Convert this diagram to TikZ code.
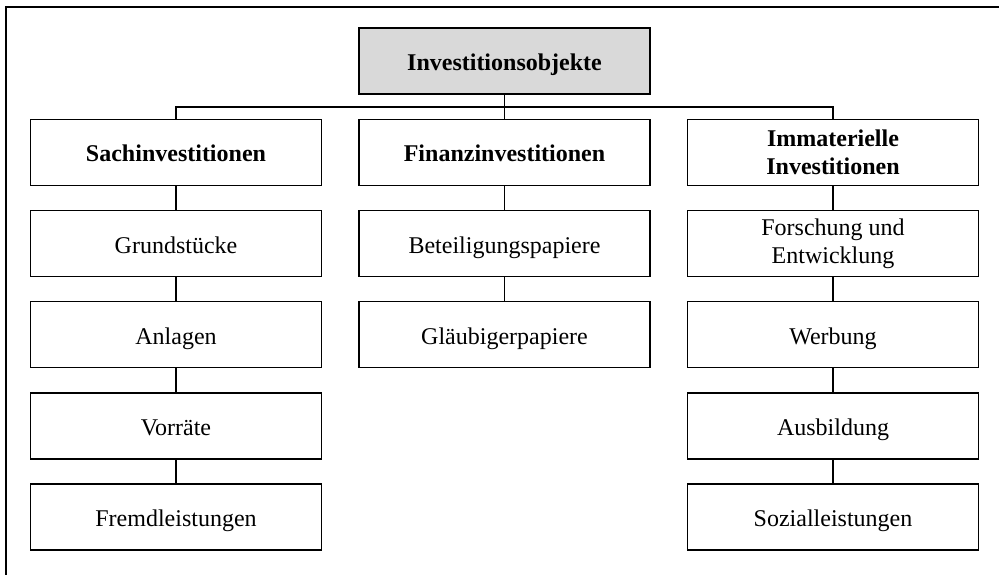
\documentclass[tikz,border=0pt]{standalone}
\usepackage{fontspec}
\setmainfont{Liberation Serif}
\definecolor{topgray}{HTML}{D9D9D9}
\begin{document}
\begin{tikzpicture}[x=1pt,y=-1pt,line width=1.6pt,
  basebox/.style={draw,line width=1.6pt,minimum width=291pt,minimum height=66pt,inner sep=0pt,align=center,font=\fontsize{24}{28}\selectfont},
  box/.style={basebox,text height=24pt,text depth=5pt},
  twobox/.style={basebox},
  head/.style={box,font=\fontsize{24}{28}\selectfont\bfseries},
  twohead/.style={twobox,font=\fontsize{24}{28}\selectfont\bfseries},
  conn/.style={draw,line width=1.6pt}]
\useasboundingbox (0,0) rectangle (999,575);
\draw[line width=1.6pt] (999,7) -- (6,7) -- (6,575);
% top
\node[head,fill=topgray] (top) at (504.5,61) {Investitionsobjekte};
% level 1
\node[head] (sach) at (176,152.5) {Sachinvestitionen};
\node[head] (fin) at (504.5,152.5) {Finanzinvestitionen};
\node[twohead] (imm) at (833,152.5) {Immaterielle\\Investitionen};
% column 1
\node[box] (s1) at (176,243.5) {Grundstücke};
\node[box] (s2) at (176,334.5) {Anlagen};
\node[box] (s3) at (176,426) {Vorräte};
\node[box] (s4) at (176,517) {Fremdleistungen};
% column 2
\node[box] (f1) at (504.5,243.5) {Beteiligungspapiere};
\node[box] (f2) at (504.5,334.5) {Gläubigerpapiere};
% column 3
\node[twobox] (i1) at (833,243.5) {Forschung und\\Entwicklung};
\node[box] (i2) at (833,334.5) {Werbung};
\node[box] (i3) at (833,426) {Ausbildung};
\node[box] (i4) at (833,517) {Sozialleistungen};
% connectors
\coordinate (busL) at (176,107);
\coordinate (busR) at (833,107);
\path[conn] (sach.north) -- (busL) -- (busR) -- (imm.north);
\path[conn] (top.south) -- (fin.north);
\path[conn] (sach.south) -- (s1.north);
\path[conn] (s1.south) -- (s2.north);
\path[conn] (s2.south) -- (s3.north);
\path[conn] (s3.south) -- (s4.north);
\path[conn] (fin.south) -- (f1.north);
\path[conn] (f1.south) -- (f2.north);
\path[conn] (imm.south) -- (i1.north);
\path[conn] (i1.south) -- (i2.north);
\path[conn] (i2.south) -- (i3.north);
\path[conn] (i3.south) -- (i4.north);
\end{tikzpicture}
\end{document}
